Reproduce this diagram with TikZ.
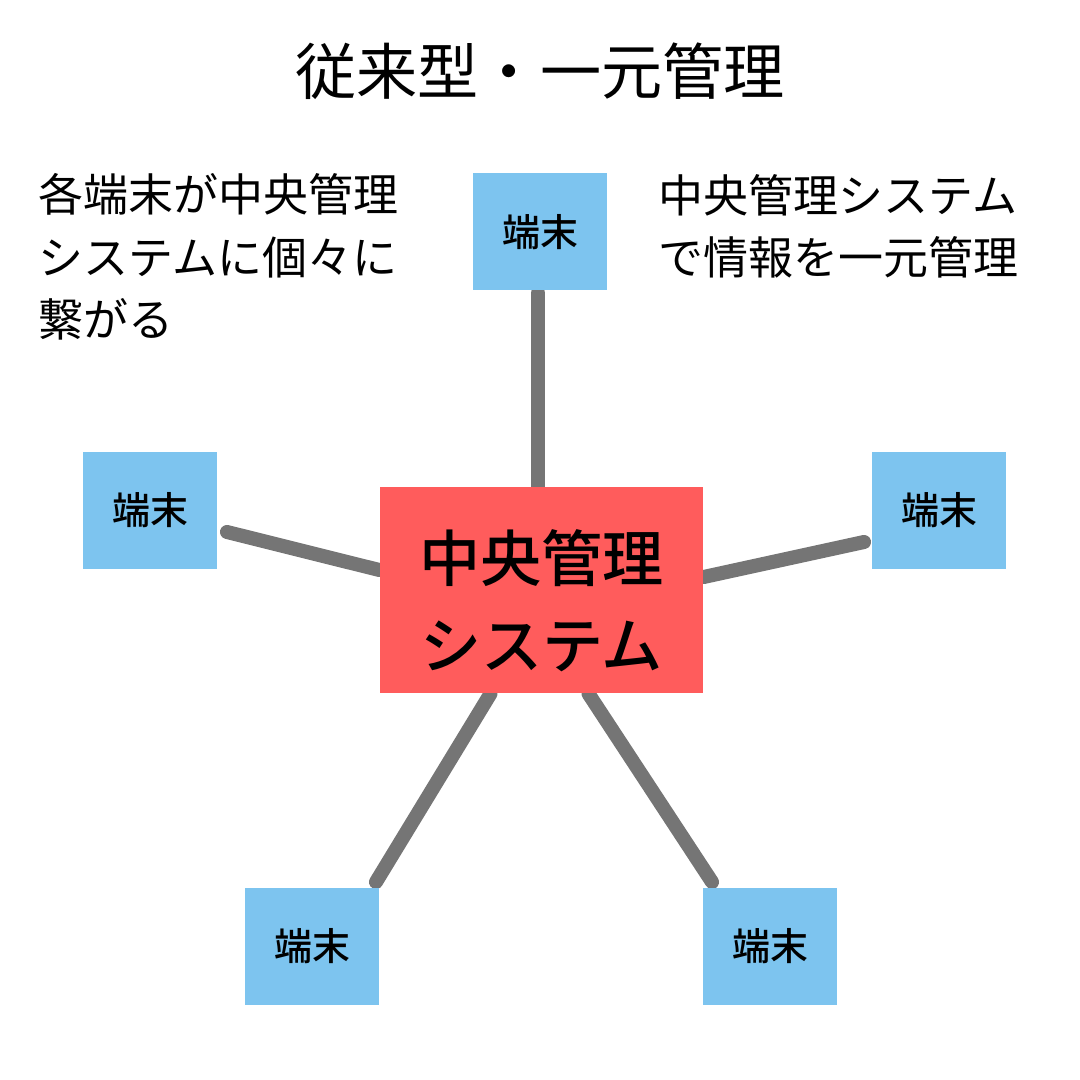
\documentclass[tikz,border=0pt]{standalone}
\usepackage{fontspec}
\setmainfont{Noto Sans CJK JP}
\newfontfamily\jpmed{Noto Sans CJK JP Medium}
\usetikzlibrary{calc, backgrounds}
\definecolor{hubred}{HTML}{FF5C5C}
\definecolor{termblue}{HTML}{7DC4EF}
\definecolor{linkgray}{HTML}{757575}

\begin{document}
\begin{tikzpicture}[
  y=-1cm,
  term/.style={fill=termblue, minimum width=1.34cm, minimum height=1.17cm, inner sep=0pt, font=\jpmed\fontsize{10.8}{13}\selectfont},
  hub/.style={fill=hubred, minimum width=3.23cm, minimum height=2.06cm, inner sep=0pt},
  hubtext/.style={align=center, inner sep=0pt, font=\jpmed\fontsize{17.4}{24.7}\selectfont},
  link/.style={draw=linkgray, line width=4pt, line cap=round},
  note/.style={anchor=base west, align=left, inner sep=0pt, font=\fontsize{12.8}{17.8}\selectfont}
]
  \path[use as bounding box] (0,0) rectangle (10.8,10.8);

  \node[anchor=base, inner sep=0pt, font=\fontsize{17.4}{20}\selectfont] (title) at (5.40,0.95) {従来型・一元管理};
  % base anchor sits on the last line
  \node[note] (noteL) at (0.38,3.37) {各端末が中央管理\\システムに個々に\\繋がる};
  \node[note] (noteR) at (6.58,2.75) {中央管理システム\\で情報を一元管理};

  \node[hub] (hub) at (5.415,5.90) {};
  \node[hubtext] (hubtxt) at ($(hub)+(0,0.11)$) {中央管理\\システム};
  \node[term] (tT)  at (5.40,2.32) {端末};
  \node[term] (tL)  at (1.50,5.10) {端末};
  \node[term] (tR)  at (9.39,5.10) {端末};
  \node[term] (tBL) at (3.12,9.465) {端末};
  \node[term] (tBR) at (7.70,9.465) {端末};

  % cable ends next to each terminal
  \coordinate (eT)  at (5.38,2.93);
  \coordinate (eL)  at (2.27,5.32);
  \coordinate (eR)  at (8.64,5.42);
  \coordinate (eBL) at (3.76,8.82);
  \coordinate (eBR) at (7.12,8.82);

  \begin{scope}[on background layer]
    \draw[link] (eT)  -- (eT |- hub.north);
    \draw[link] (eL)  -- ($(hub.west)+(0,-0.20)$);
    \draw[link] (eR)  -- ($(hub.east)+(0,-0.13)$);
    \draw[link] (eBL) -- ($(hub.south)+(-0.51,0)$);
    \draw[link] (eBR) -- ($(hub.south)+(0.47,0)$);
  \end{scope}
\end{tikzpicture}
\end{document}
